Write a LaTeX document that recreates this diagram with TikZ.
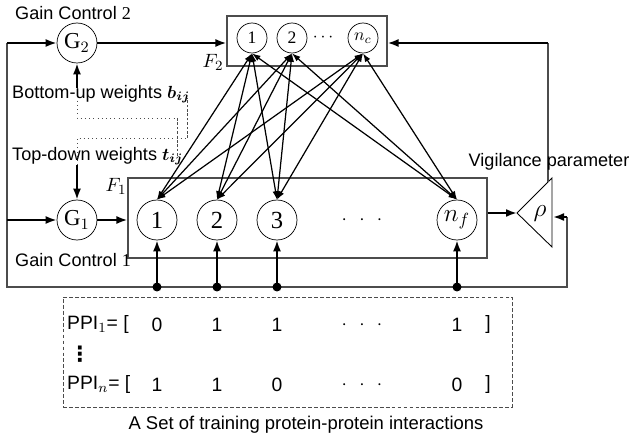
\documentclass[tikz,border=0pt]{standalone}
\usepackage{fontspec}
\setmainfont{Liberation Sans}
\newfontfamily\serifnum{Liberation Serif}
\newfontfamily\symbolfont{DejaVu Sans}
\usetikzlibrary{arrows.meta}

\begin{document}
\begin{tikzpicture}[
    unit/.style={draw, circle, minimum size=0.8cm, inner sep=0pt, font=\fontsize{14}{14}\selectfont\serifnum},
    topunit/.style={draw, circle, minimum size=0.6cm, inner sep=0pt, font=\fontsize{10}{10}\selectfont\serifnum},
    gain/.style={draw, circle, minimum size=0.8cm, inner sep=0pt, font=\fontsize{13}{13}\selectfont\serifnum},
    layer/.style={draw=black!70, line width=0.6pt},
    wire/.style={black!70, line width=0.6pt},
    feed/.style={-{Latex[length=2.2mm, width=1.6mm]}, line width=1.1pt},
    link/.style={{Latex[length=1.7mm, width=1.2mm]}-{Latex[length=1.7mm, width=1.2mm]}, line width=0.7pt},
    tap/.style={circle, fill, inner sep=0pt, minimum size=0.18cm},
    txt/.style={font=\fontsize{10.3}{12}\selectfont},
    entry/.style={font=\fontsize{11}{13}\selectfont},
    weightline/.style={black!70, line width=0.4pt, dotted},
    weightedge/.style={black!70, line width=0.4pt, dash pattern=on 1.5pt off 1pt},
]
    \useasboundingbox (0,0) rectangle (12.58,8.8);

    % F2 layer
    \node[layer, minimum width=3.2cm, minimum height=1.0cm] (f2box) at (6.14,7.98) {};
    \node[topunit] (c1) at (5.04,8.04) {1};
    \node[topunit] (c2) at (5.84,8.04) {2};
    \node[font=\fontsize{10}{10}\selectfont] (cdots) at (6.46,8.04) {$\cdots$};
    \node[topunit] (cn) at (7.26,8.04) {$n_c$};
    \node[font=\fontsize{11}{11}\selectfont] (f2lab) at (4.26,7.56) {$F_2$};

    % F1 layer
    \node[layer, minimum width=7.18cm, minimum height=1.6cm] (f1box) at (6.15,4.44) {};
    \node[unit] (a1) at (3.14,4.40) {1};
    \node[unit] (a2) at (4.34,4.40) {2};
    \node[unit] (a3) at (5.54,4.40) {3};
    \node[font=\fontsize{11}{11}\selectfont] (adots) at (7.24,4.40) {$\cdot$\hspace{7pt}$\cdot$\hspace{7pt}$\cdot$};
    \node[unit] (af) at (9.14,4.40) {$n_f$};
    \node[font=\fontsize{11}{11}\selectfont] (f1lab) at (2.32,5.08) {$F_1$};

    % Gain control units
    \node[gain] (g2) at (1.54,7.94) {G$_2$};
    \node[gain] (g1) at (1.54,4.40) {G$_1$};

    % Bottom-up / top-down weights
    \coordinate (buA) at (1.54,6.44);
    \coordinate (buB) at (1.54,7.04);
    \coordinate (buC) at (3.54,6.44);
    \coordinate (buD) at (3.54,5.66);
    \draw[weightline] (buB) -- (buA) -- (buC);
    \draw[weightedge] (buC) -- (buD);
    \draw[feed] (buB) -- (g2);
    \coordinate (tdA) at (1.54,6.04);
    \coordinate (tdB) at (1.54,5.50);
    \coordinate (tdC) at (3.74,6.04);
    \coordinate (tdD) at (3.74,6.84);
    \draw[weightline] (tdB) -- (tdA) -- (tdC);
    \draw[weightedge] (tdC) -- (tdD);
    \draw[feed] (tdB) -- (g1);

    % Connections F2 <-> F1
    \foreach \t in {c1,c2,cn}
        \foreach \b in {a1,a2,a3,af}
            \draw[link] (\t.south) -- (\b.north);

    % Gain control paths
    \draw[feed] (g2) -- (f2box.west |- g2);
    \draw[feed] (g1) -- (f1box.west |- g1);

    % Vigilance
    \coordinate (rhotip) at (10.34,4.54);
    \coordinate (rhohi) at (11.04,5.24);
    \coordinate (rholo) at (11.04,3.86);
    \draw[line width=0.5pt] (rhotip) -- (rhohi) -- (rholo) -- cycle;
    \node[font=\fontsize{15}{15}\selectfont] (rho) at (10.80,4.52) {$\rho$};
    \draw[feed] (f1box.east |- rhotip) -- (rhotip);
    \coordinate (vigfoot) at (10.96,5.16);
    \coordinate (vigtop) at (10.96,7.94);
    \draw[wire] (vigfoot) -- (vigtop);
    \draw[feed] (vigtop) -- (f2box.east |- vigtop);

    % Input wiring
    \coordinate (lefttop) at (0.14,7.94);
    \coordinate (leftmid) at (0.14,4.40);
    \coordinate (leftbot) at (0.14,3.06);
    \coordinate (rightbot) at (11.34,3.06);
    \coordinate (rightin) at (11.34,4.46);
    \coordinate (rhoback) at (11.06,4.46);
    \draw[wire] (lefttop) -- (leftbot) -- (rightbot) -- (rightin);
    \draw[feed] (lefttop) -- (g2);
    \draw[feed] (leftmid) -- (g1);
    \draw[feed] (rightin) -- (rhoback);
    \node[tap] (p1) at (a1 |- leftbot) {};
    \node[tap] (p2) at (a2 |- leftbot) {};
    \node[tap] (p3) at (a3 |- leftbot) {};
    \node[tap] (pf) at (af |- leftbot) {};
    \draw[feed] (p1.center) -- (a1);
    \draw[feed] (p2.center) -- (a2);
    \draw[feed] (p3.center) -- (a3);
    \draw[feed] (pf.center) -- (af);

    % Labels
    \node[txt, anchor=west] (gc2) at (0.18,8.54) {Gain Control {\serifnum 2}};
    \node[txt, anchor=west] (gc1) at (0.18,3.60) {Gain Control {\serifnum 1}};
    \node[txt, anchor=west] (bulab) at (0.12,6.92) {Bottom-up weights {\boldmath$b_{ij}$}};
    \node[txt, anchor=west] (tdlab) at (0.12,5.68) {Top-down weights {\boldmath$t_{ij}$}};
    \node[txt] (vig) at (10.98,5.56) {Vigilance parameter};

    % Training set
    \node[draw=black!70, line width=0.5pt, dash pattern=on 2.2pt off 1.2pt, minimum width=8.98cm, minimum height=2.2cm] (ppibox) at (5.75,1.76) {};
    \node[entry, anchor=west] (row1) at (1.22,2.30) {PPI$_1$= [};
    \node[entry, anchor=west] (rown) at (1.22,1.10) {PPI$_n$= [};
    \node[font=\fontsize{12}{12}\selectfont\symbolfont\bfseries] (vd) at (1.60,1.72) {⋮};
    \node[entry] (v11) at (3.14,2.30) {0};
    \node[entry] (v12) at (4.34,2.30) {1};
    \node[entry] (v13) at (5.54,2.30) {1};
    \node[entry] (v1d) at (7.24,2.30) {$\cdot$\hspace{7pt}$\cdot$\hspace{7pt}$\cdot$};
    \node[entry] (v1f) at (9.14,2.30) {1};
    \node[entry] (v1e) at (9.76,2.30) {]};
    \node[entry] (vn1) at (3.14,1.10) {1};
    \node[entry] (vn2) at (4.34,1.10) {1};
    \node[entry] (vn3) at (5.54,1.10) {0};
    \node[entry] (vnd) at (7.24,1.10) {$\cdot$\hspace{7pt}$\cdot$\hspace{7pt}$\cdot$};
    \node[entry] (vnf) at (9.14,1.10) {0};
    \node[entry] (vne) at (9.76,1.10) {]};
    \node[font=\fontsize{10.5}{12}\selectfont] (caption) at (6.12,0.30) {A Set of training protein-protein interactions};
\end{tikzpicture}
\end{document}
